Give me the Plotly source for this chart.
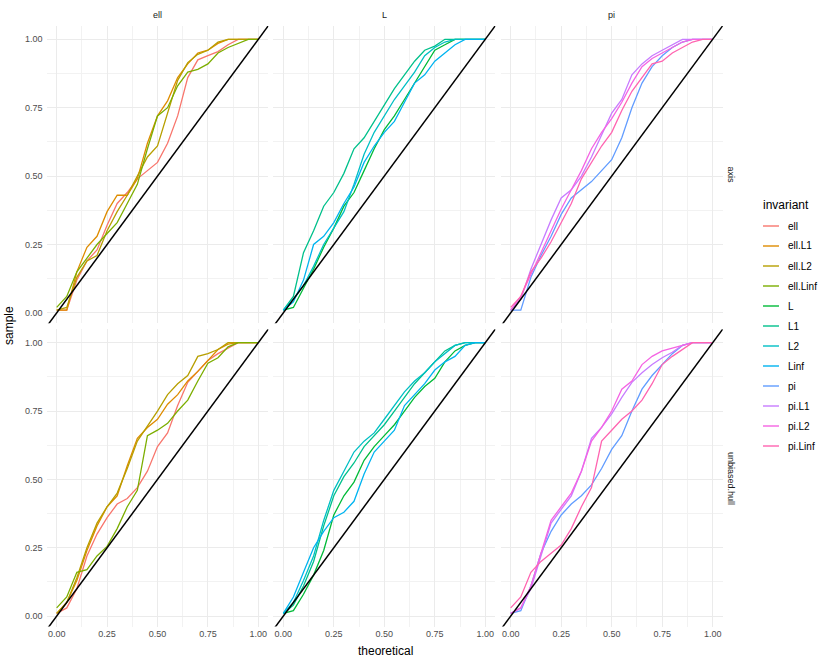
import plotly.graph_objects as go
from plotly.subplots import make_subplots

W, H = 830, 664

# theoretical quantiles (x) shared by every series
theoretical = [0.00, 0.05, 0.10, 0.15, 0.20, 0.25, 0.30, 0.35, 0.40, 0.45, 0.50,
               0.55, 0.60, 0.65, 0.70, 0.75, 0.80, 0.85, 0.90, 0.95, 1.00]

# row "axis"
axis_ell = [0.01, 0.01, 0.12, 0.19, 0.23, 0.32, 0.40, 0.44, 0.49, 0.52, 0.55, 0.62, 0.72, 0.86, 0.925, 0.94, 0.955, 0.98, 1.0, 1.0, 1.0]
axis_ell_L1 = [0.01, 0.01, 0.15, 0.24, 0.28, 0.37, 0.43, 0.43, 0.49, 0.62, 0.72, 0.775, 0.86, 0.91, 0.95, 0.96, 0.985, 1.0, 1.0, 1.0, 1.0]
axis_ell_L2 = [0.01, 0.02, 0.13, 0.19, 0.21, 0.30, 0.37, 0.43, 0.50, 0.57, 0.61, 0.73, 0.85, 0.915, 0.945, 0.96, 0.99, 1.0, 1.0, 1.0, 1.0]
axis_ell_Linf = [0.02, 0.06, 0.15, 0.20, 0.25, 0.29, 0.33, 0.40, 0.47, 0.60, 0.72, 0.75, 0.83, 0.88, 0.89, 0.91, 0.95, 0.97, 0.985, 1.0, 1.0]
axis_L = [0.01, 0.02, 0.09, 0.16, 0.24, 0.31, 0.39, 0.44, 0.52, 0.60, 0.67, 0.72, 0.78, 0.84, 0.90, 0.96, 0.98, 1.0, 1.0, 1.0, 1.0]
axis_L1 = [0.01, 0.06, 0.22, 0.30, 0.39, 0.44, 0.51, 0.60, 0.64, 0.70, 0.76, 0.82, 0.87, 0.92, 0.96, 0.975, 1.0, 1.0, 1.0, 1.0, 1.0]
axis_L2 = [0.01, 0.05, 0.10, 0.17, 0.25, 0.31, 0.37, 0.47, 0.58, 0.66, 0.72, 0.78, 0.83, 0.88, 0.94, 0.97, 0.99, 1.0, 1.0, 1.0, 1.0]
axis_Linf = [0.01, 0.04, 0.12, 0.25, 0.28, 0.33, 0.40, 0.46, 0.55, 0.61, 0.66, 0.70, 0.77, 0.84, 0.87, 0.92, 0.95, 0.98, 1.0, 1.0, 1.0]
axis_pi = [0.01, 0.01, 0.13, 0.21, 0.28, 0.36, 0.42, 0.45, 0.48, 0.52, 0.56, 0.64, 0.75, 0.84, 0.90, 0.94, 0.97, 0.99, 1.0, 1.0, 1.0]
axis_pi_L1 = [0.01, 0.05, 0.16, 0.25, 0.34, 0.42, 0.45, 0.50, 0.57, 0.65, 0.73, 0.78, 0.87, 0.91, 0.94, 0.96, 0.98, 1.0, 1.0, 1.0, 1.0]
axis_pi_L2 = [0.01, 0.06, 0.14, 0.22, 0.30, 0.38, 0.45, 0.52, 0.60, 0.66, 0.71, 0.77, 0.84, 0.90, 0.93, 0.95, 0.97, 0.99, 1.0, 1.0, 1.0]
axis_pi_Linf = [0.02, 0.06, 0.15, 0.20, 0.26, 0.33, 0.40, 0.49, 0.55, 0.61, 0.66, 0.74, 0.81, 0.86, 0.91, 0.92, 0.95, 0.97, 0.99, 1.0, 1.0]

# row "unbiased.hull"
hull_ell = [0.01, 0.03, 0.10, 0.22, 0.30, 0.36, 0.41, 0.43, 0.47, 0.53, 0.62, 0.67, 0.77, 0.855, 0.895, 0.935, 0.96, 0.98, 1.0, 1.0, 1.0]
hull_ell_L1 = [0.01, 0.05, 0.13, 0.24, 0.33, 0.40, 0.44, 0.55, 0.65, 0.69, 0.72, 0.775, 0.81, 0.86, 0.895, 0.935, 0.975, 0.995, 1.0, 1.0, 1.0]
hull_ell_L2 = [0.01, 0.05, 0.14, 0.25, 0.34, 0.40, 0.45, 0.54, 0.64, 0.695, 0.75, 0.81, 0.85, 0.88, 0.95, 0.96, 0.975, 1.0, 1.0, 1.0, 1.0]
hull_ell_Linf = [0.03, 0.07, 0.16, 0.17, 0.22, 0.255, 0.32, 0.40, 0.46, 0.66, 0.68, 0.705, 0.75, 0.79, 0.86, 0.925, 0.945, 0.985, 1.0, 1.0, 1.0]
hull_L = [0.01, 0.02, 0.08, 0.15, 0.24, 0.37, 0.44, 0.49, 0.57, 0.62, 0.66, 0.70, 0.75, 0.80, 0.84, 0.87, 0.93, 0.97, 0.99, 1.0, 1.0]
hull_L1 = [0.01, 0.04, 0.11, 0.20, 0.33, 0.44, 0.51, 0.56, 0.62, 0.66, 0.70, 0.75, 0.80, 0.85, 0.89, 0.93, 0.97, 0.99, 1.0, 1.0, 1.0]
hull_L2 = [0.01, 0.05, 0.13, 0.22, 0.35, 0.46, 0.53, 0.60, 0.64, 0.67, 0.72, 0.77, 0.82, 0.86, 0.89, 0.93, 0.96, 0.99, 1.0, 1.0, 1.0]
hull_Linf = [0.01, 0.07, 0.16, 0.25, 0.31, 0.36, 0.38, 0.42, 0.52, 0.60, 0.64, 0.68, 0.77, 0.81, 0.85, 0.90, 0.93, 0.95, 0.99, 1.0, 1.0]
hull_pi = [0.01, 0.02, 0.11, 0.23, 0.31, 0.37, 0.41, 0.44, 0.48, 0.54, 0.61, 0.66, 0.75, 0.83, 0.88, 0.92, 0.96, 0.99, 1.0, 1.0, 1.0]
hull_pi_L1 = [0.01, 0.03, 0.10, 0.22, 0.34, 0.39, 0.44, 0.53, 0.65, 0.69, 0.74, 0.80, 0.855, 0.89, 0.92, 0.945, 0.965, 0.99, 1.0, 1.0, 1.0]
hull_pi_L2 = [0.01, 0.03, 0.11, 0.23, 0.35, 0.40, 0.45, 0.53, 0.64, 0.69, 0.75, 0.83, 0.86, 0.92, 0.95, 0.97, 0.98, 0.99, 1.0, 1.0, 1.0]
hull_pi_Linf = [0.03, 0.07, 0.16, 0.20, 0.23, 0.26, 0.32, 0.40, 0.47, 0.64, 0.68, 0.72, 0.75, 0.79, 0.85, 0.92, 0.95, 0.975, 1.0, 1.0, 1.0]

facets = ["ell", "L", "pi"]
rows = ["axis", "unbiased.hull"]
invariants = ["ell", "ell.L1", "ell.L2", "ell.Linf", "L", "L1", "L2", "Linf",
              "pi", "pi.L1", "pi.L2", "pi.Linf"]
tick_vals = [0.0, 0.25, 0.5, 0.75, 1.0]

# ggplot2 default hue palette for 12 levels
COLORS = ["#F8766D", "#DE8C00", "#B79F00", "#7CAE00", "#00BA38", "#00C08B",
          "#00BFC4", "#00B4F0", "#619CFF", "#C77CFF", "#F564E3", "#FF64B0"]

series = {
    "axis": [axis_ell, axis_ell_L1, axis_ell_L2, axis_ell_Linf, axis_L, axis_L1,
             axis_L2, axis_Linf, axis_pi, axis_pi_L1, axis_pi_L2, axis_pi_Linf],
    "unbiased.hull": [hull_ell, hull_ell_L1, hull_ell_L2, hull_ell_Linf, hull_L, hull_L1,
                      hull_L2, hull_Linf, hull_pi, hull_pi_L1, hull_pi_L2, hull_pi_Linf],
}

X_RANGE = [-0.05, 1.05]
Y_RANGE = [-0.038, 1.049]
FONT = "Liberation Sans, Arial, sans-serif"

# panel boxes in pixels
col_px = [(46.6, 268.4), (273.2, 495.4), (500.6, 722.8)]
row_px = [(25.9, 323.3), (329.3, 626.5)]


def px_x(v):
    return v / W


def px_y(v):
    return 1 - v / H


def facet_of(inv):
    if inv.startswith("L"):
        return "L"
    return inv.split(".")[0]


def label(x, y, text, size, color="black", xanchor="center", angle=0):
    return dict(
        x=px_x(x), y=px_y(y), xref="paper", yref="paper", text=text,
        showarrow=False, xanchor=xanchor, yanchor="middle", textangle=angle,
        font=dict(family=FONT, size=size, color=color),
    )


fig = make_subplots(rows=2, cols=3)

for r, row in enumerate(rows):
    for c, facet in enumerate(facets):
        for i, inv in enumerate(invariants):
            if facet_of(inv) != facet:
                continue
            fig.add_trace(go.Scatter(
                x=theoretical, y=series[row][i],
                mode="lines",
                line=dict(color=COLORS[i], width=1.3),
                name=inv, showlegend=False, hoverinfo="skip",
            ), row=r + 1, col=c + 1)
        # identity reference line across the panel
        fig.add_trace(go.Scatter(
            x=X_RANGE, y=X_RANGE, mode="lines",
            line=dict(color="black", width=1.5),
            showlegend=False, hoverinfo="skip",
        ), row=r + 1, col=c + 1)

axis_common = dict(
    showline=False, zeroline=False, ticks="",
    gridcolor="#EBEBEB", gridwidth=1.2,
    tickfont=dict(family=FONT, size=9, color="#4D4D4D"),
    minor=dict(dtick=0.25, tick0=0.125, showgrid=True,
               gridcolor="#F2F2F2", gridwidth=0.7),
)

for r in range(2):
    for c in range(3):
        k = r * 3 + c + 1
        sx = "" if k == 1 else str(k)
        fig.layout["xaxis" + sx].update(
            domain=[px_x(col_px[c][0]), px_x(col_px[c][1])],
            range=X_RANGE, tickvals=tick_vals, tickformat=".2f",
            showticklabels=(r == 1),
            **axis_common,
        )
        fig.layout["yaxis" + sx].update(
            domain=[px_y(row_px[r][1]), px_y(row_px[r][0])],
            range=Y_RANGE, tickvals=tick_vals, tickformat=".2f",
            showticklabels=(c == 0), ticklabelstandoff=3,
            **axis_common,
        )

annotations = []
# facet strips
for c, facet in enumerate(facets):
    annotations.append(label((col_px[c][0] + col_px[c][1]) / 2, 15, facet, 9, "#1A1A1A"))
for r, row in enumerate(rows):
    annotations.append(label(731, (row_px[r][0] + row_px[r][1]) / 2, row, 9, "#1A1A1A", angle=90))
# axis titles
annotations.append(label(385, 651, "theoretical", 12))
annotations.append(label(9, 326, "sample", 12, angle=-90))

# legend drawn by hand to mimic ggplot's key layout
shapes = []
annotations.append(label(761, 205, "invariant", 12, xanchor="left"))
for i, inv in enumerate(invariants):
    yc = 226 + 20 * i
    shapes.append(dict(
        type="line", xref="paper", yref="paper",
        x0=px_x(763), x1=px_x(779), y0=px_y(yc), y1=px_y(yc),
        line=dict(color=COLORS[i], width=1.4),
    ))
    annotations.append(label(786, yc, inv, 10, xanchor="left"))

fig.update_layout(
    width=W, height=H,
    margin=dict(l=0, r=0, t=0, b=0),
    plot_bgcolor="white", paper_bgcolor="white",
    showlegend=False,
    annotations=annotations,
    shapes=shapes,
)

fig.write_html("out.html", config={"displayModeBar": False},
               post_script="document.body.style.margin='0';")
